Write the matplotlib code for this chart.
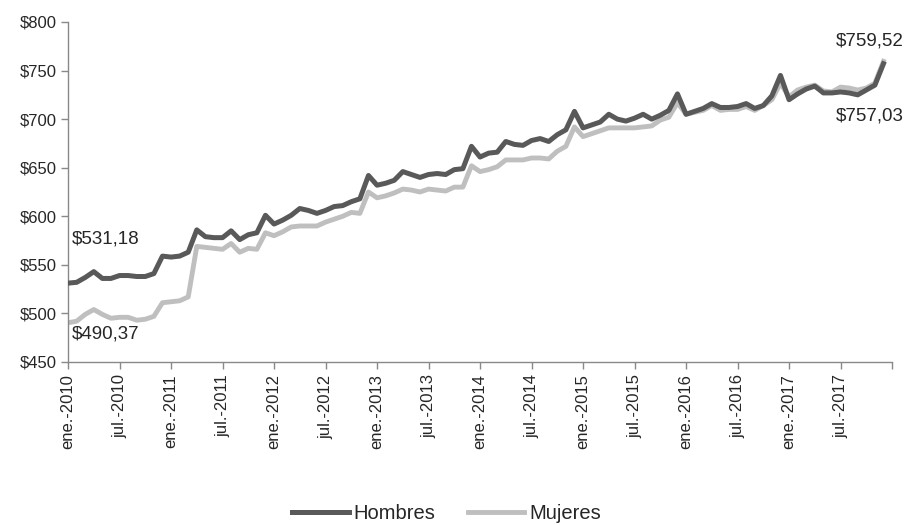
import matplotlib
matplotlib.use("Agg")
import matplotlib.pyplot as plt
import numpy as np

# monthly average wage, ene-2010 .. dic-2017
hombres = [
    531.18, 532, 537, 543, 536, 536, 539, 539, 538, 538, 541, 559,   # 2010
    558, 559, 563, 586, 579, 578, 578, 585, 576, 581, 583, 601,      # 2011
    592, 596, 601, 608, 606, 603, 606, 610, 611, 615, 618, 642,      # 2012
    632, 634, 637, 646, 643, 640, 643, 644, 643, 648, 649, 672,      # 2013
    661, 665, 666, 677, 674, 673, 678, 680, 677, 684, 689, 708,      # 2014
    691, 694, 697, 705, 700, 698, 701, 705, 700, 704, 709, 726,      # 2015
    705, 708, 711, 716, 712, 712, 713, 716, 711, 714, 724, 745,      # 2016
    720, 726, 731, 734, 727, 727, 728, 727, 725, 730, 735, 757.03,   # 2017
]
mujeres = [
    490.37, 492, 499, 504, 499, 495, 496, 496, 493, 494, 497, 511,   # 2010
    512, 513, 517, 569, 568, 567, 566, 572, 563, 567, 566, 583,      # 2011
    580, 584, 589, 590, 590, 590, 594, 597, 600, 604, 603, 625,      # 2012
    619, 621, 624, 628, 627, 625, 628, 627, 626, 630, 630, 652,      # 2013
    646, 648, 651, 658, 658, 658, 660, 660, 659, 667, 672, 692,      # 2014
    682, 685, 688, 691, 691, 691, 691, 692, 693, 699, 702, 717,      # 2015
    705, 707, 709, 714, 709, 710, 710, 713, 709, 714, 720, 737,      # 2016
    723, 730, 733, 735, 729, 728, 733, 732, 730, 732, 737, 759.52,   # 2017
]
years = list(range(2010, 2018))
tick_labels = []
for y in years:
    tick_labels += [f"ene.-{y}", f"jul.-{y}"]

dark = "#595959"
light = "#bfbfbf"
text_color = "#262626"


def money(v):
    return "$" + f"{v:.2f}".replace(".", ",")


plt.rcParams["font.family"] = ["Liberation Sans", "DejaVu Sans"]

fig = plt.figure(figsize=(9.06, 5.25), dpi=100)
ax = fig.add_axes([0.0751, 0.3105, 0.9095, 0.6476])

x = np.arange(len(hombres))
ax.plot(x, hombres, color=dark, lw=3.6, solid_joinstyle="round", label="Hombres", zorder=3)
ax.plot(x, mujeres, color=light, lw=3.5, solid_joinstyle="round", label="Mujeres", zorder=2)

ax.set_xlim(0, len(hombres))
ax.set_ylim(450, 800)
ax.set_yticks(np.arange(450, 801, 50))
ax.set_yticklabels([f"${v}" for v in range(450, 801, 50)])

ax.set_xticks(np.arange(0, len(hombres) + 1, 6))
ax.set_xticklabels(tick_labels + [""], rotation=90, ha="center", va="top")

for side in ["top", "right"]:
    ax.spines[side].set_visible(False)
for side in ["left", "bottom"]:
    ax.spines[side].set_color("#898989")
    ax.spines[side].set_linewidth(1.0)
ax.tick_params(axis="both", direction="out", length=5, width=1.0, color="#898989",
               labelsize=12, labelcolor=text_color)
ax.tick_params(axis="y", pad=3)
ax.tick_params(axis="x", pad=4)

# first and last values of each series
last = len(hombres) - 1
ax.annotate(money(hombres[0]), xy=(0, hombres[0]), xytext=(3, 32), textcoords="offset points",
            ha="left", va="center", fontsize=13.5, color=text_color)
ax.annotate(money(mujeres[0]), xy=(0, mujeres[0]), xytext=(3, -8), textcoords="offset points",
            ha="left", va="center", fontsize=13.5, color=text_color)
ax.annotate(money(mujeres[last]), xy=(last, mujeres[last]), xytext=(14.4, 14.4), textcoords="offset points",
            ha="right", va="center", fontsize=13.5, color=text_color, annotation_clip=False)
ax.annotate(money(hombres[last]), xy=(last, hombres[last]), xytext=(14.4, -37.4), textcoords="offset points",
            ha="right", va="center", fontsize=13.5, color=text_color, annotation_clip=False)

fig.legend(loc="center", bbox_to_anchor=(0.493, 0.021), ncol=2, frameon=False, fontsize=14.5,
           handlelength=2.8, handletextpad=0.25, columnspacing=1.6, labelcolor=text_color)

plt.savefig("out.png", dpi=100)
